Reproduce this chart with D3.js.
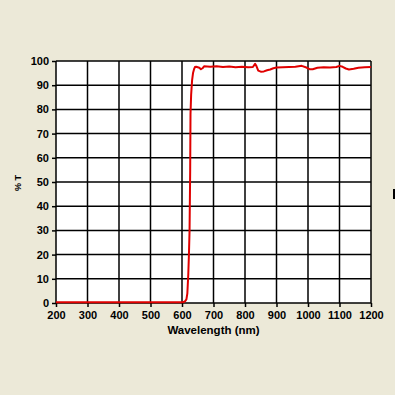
<!DOCTYPE html>
<html><head><meta charset="utf-8">
<script src="https://cdn.jsdelivr.net/npm/d3@7"></script>
<style>
html,body{margin:0;padding:0;background:#ECE9D8;}
svg{display:block;}
text{font-family:"Liberation Sans",Arial,sans-serif;font-weight:bold;fill:#000;}
</style></head><body>
<svg id="c" width="395" height="395"></svg>
<script>
const wavelengths = [200,300,400,500,600,605,610,614,617,620,622,624,626,627,629,632,635,638,641,645,655,660,665,670,690,710,730,750,770,790,810,825,832,836,842,850,860,870,880,890,900,920,940,960,980,995,1005,1015,1030,1050,1070,1090,1100,1110,1120,1130,1145,1160,1180,1200];
const transmission = [0.3,0.3,0.3,0.3,0.3,0.4,0.8,1.5,4,12,20,30,55,78,86,92,95,96.5,97.5,97.6,97.2,96.6,97.0,97.8,97.6,97.8,97.5,97.7,97.4,97.6,97.4,97.5,98.8,98.0,96.0,95.6,95.7,96.2,96.5,97.0,97.3,97.4,97.5,97.6,98.0,97.3,96.6,96.6,97.2,97.4,97.3,97.5,98.0,97.6,96.9,96.5,96.8,97.2,97.4,97.5];
const xTicks = [200,300,400,500,600,700,800,900,1000,1100,1200];
const yTicks = [0,10,20,30,40,50,60,70,80,90,100];
const xLabel = "Wavelength (nm)";
const yLabel = "% T";

const svg = d3.select("#c");
const L = 56, R = 371, T = 61, B = 303;
const x = d3.scaleLinear().domain([200,1200]).range([L,R]);
const y = d3.scaleLinear().domain([0,100]).range([B,T]);

svg.append("rect").attr("x",L).attr("y",T).attr("width",R-L).attr("height",B-T).attr("fill","#fff");

// grid
const g = svg.append("g").attr("stroke","#000").attr("stroke-width",1.5);
g.selectAll(".vx").data(xTicks).join("line")
  .attr("x1",d=>x(d)).attr("x2",d=>x(d)).attr("y1",T).attr("y2",B);
g.selectAll(".hy").data(yTicks).join("line")
  .attr("x1",L).attr("x2",R).attr("y1",d=>y(d)).attr("y2",d=>y(d));

// axes
const xa = svg.append("g").attr("transform",`translate(0,${B})`)
  .call(d3.axisBottom(x).tickValues(xTicks).tickSize(4).tickPadding(4).tickFormat(d3.format("d")));
const ya = svg.append("g").attr("transform",`translate(${L},0)`)
  .call(d3.axisLeft(y).tickValues(yTicks).tickSize(4).tickPadding(3).tickFormat(d3.format("d")));
[xa,ya].forEach(a=>{
  a.select(".domain").remove();
  a.selectAll(".tick line").attr("stroke","#000").attr("stroke-width",1.5);
  a.selectAll("text").attr("font-size",11).attr("font-family",'"Liberation Sans",Arial,sans-serif').attr("font-weight","bold").attr("fill","#000");
});

// line
const line = d3.line().x((d,i)=>x(wavelengths[i])).y((d,i)=>y(transmission[i]));
svg.append("path").datum(transmission).attr("d",line)
  .attr("fill","none").attr("stroke","#E00000").attr("stroke-width",2).attr("stroke-linejoin","round");

// labels
svg.append("text").attr("x",(L+R)/2).attr("y",334).attr("text-anchor","middle").attr("font-size",11.5).text(xLabel);
svg.append("text").attr("transform","translate(21,183) rotate(-90)").attr("text-anchor","middle").attr("font-size",9).attr("fill","#333").text(yLabel);

// small clipped mark on right edge
svg.append("rect").attr("x",393).attr("y",189).attr("width",2).attr("height",10).attr("fill","#000");
</script>
</body></html>
